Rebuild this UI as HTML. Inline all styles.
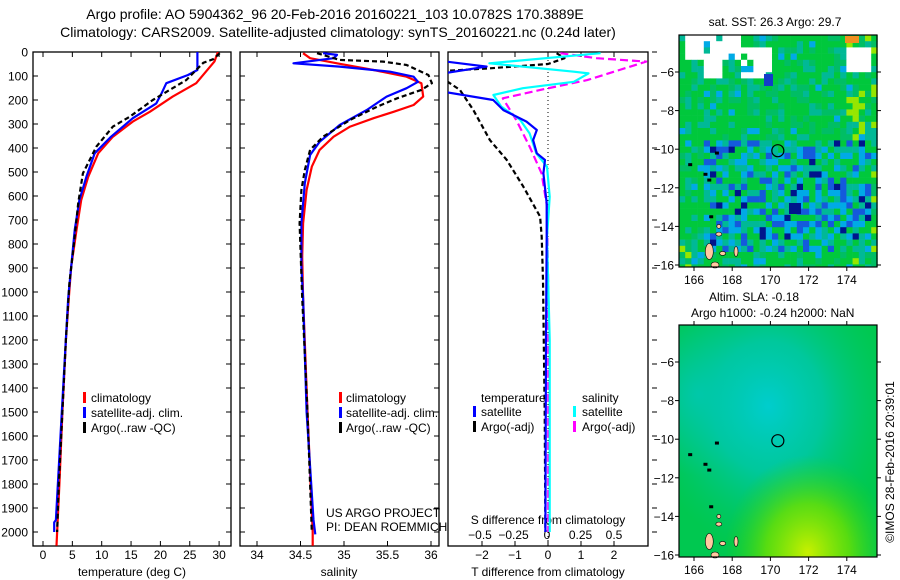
<!DOCTYPE html>
<html><head><meta charset="utf-8"><style>
html,body{margin:0;padding:0;background:#fff}
svg{display:block;font-family:"Liberation Sans",sans-serif}
</style></head><body>
<svg id="fig" width="900" height="580" viewBox="0 0 900 580" xmlns="http://www.w3.org/2000/svg">
<defs>
<clipPath id="c1"><rect x="33" y="52" width="198" height="494"/></clipPath>
<clipPath id="c2"><rect x="240" y="52" width="199" height="494"/></clipPath>
<clipPath id="c3"><rect x="448" y="52" width="200" height="494"/></clipPath>
<radialGradient id="tealblob" cx="0.45" cy="0.35" r="0.62">
<stop offset="0" stop-color="rgb(0,205,205)"/><stop offset="0.45" stop-color="rgb(0,200,170)" stop-opacity="0.85"/><stop offset="1" stop-color="rgb(0,200,120)" stop-opacity="0"/></radialGradient>
<radialGradient id="yellblob" cx="0.65" cy="0.98" r="0.42">
<stop offset="0" stop-color="rgb(200,240,0)"/><stop offset="0.5" stop-color="rgb(110,225,0)" stop-opacity="0.8"/><stop offset="1" stop-color="rgb(40,210,20)" stop-opacity="0"/></radialGradient>
<radialGradient id="tealleft" cx="0.1" cy="0.3" r="0.35">
<stop offset="0" stop-color="rgb(0,200,190)"/><stop offset="1" stop-color="rgb(0,200,150)" stop-opacity="0"/></radialGradient>
</defs>
<text x="335" y="19" font-size="14" text-anchor="middle">Argo profile: AO 5904362_96 20-Feb-2016 20160221_103 10.0782S 170.3889E</text>
<text x="338" y="37" font-size="14" text-anchor="middle">Climatology: CARS2009. Satellite-adjusted climatology: synTS_20160221.nc (0.24d later)</text>
<g id="panels"></g>
<g id="maps"></g>
</svg>
<script>
// ---- data ----
const depthTicks=[0,100,200,300,400,500,600,700,800,900,1000,1100,1200,1300,1400,1500,1600,1700,1800,1900,2000];
const tempTicks=[0,5,10,15,20,25,30];
const salTicks=[34,34.5,35,35.5,36];
const salTickLabels=["34","34.5","35","35.5","36"];
const tDiffTicks=[-2,-1,0,1,2];
const sDiffTicks=[-0.5,-0.25,0,0.25,0.5];
const sDiffTickLabels=["-0.5","-0.25","0","0.25","0.5"];

const tempClimDepth=[0,40,130,186,249,290,353,422,520,617,742,894,1025,1200,1500,1800,2057];
const tempClim=[29.8,29.2,26.1,22.1,18.2,15.3,11.9,9.4,7.7,6.5,5.7,4.8,4.4,3.9,3.3,2.8,2.3];
const tempSatDepth=[0,75,96,130,172,214,276,353,422,520,617,742,1025,1500,1950,1960,2000];
const tempSat=[26.3,26.3,24.7,21,20.2,19.3,15.3,11.6,8.8,7.4,6.2,5.4,4.3,3.2,2.2,1.9,1.9];
const tempArgoDepth=[5,12,30,45,117,200,269,311,394,506,630,770,963,1200,1500,1800,2000];
const tempArgo=[30.1,29.8,29,27.3,24.4,18.7,14.8,11.9,9.1,6.8,6,5.4,4.5,3.9,3.3,2.7,2.4];

const salClimDepth=[5,26,47,75,103,130,186,221,249,276,311,353,408,478,575,714,853,1025,1500,2000,2057];
const salClim=[34.53,34.61,34.92,35.34,35.72,35.89,35.91,35.80,35.57,35.34,35.07,34.88,34.72,34.63,34.57,34.53,34.52,34.53,34.58,34.64,34.64];
const salSatDepth=[5,12,26,47,61,82,103,124,151,186,242,304,374,429,547,714,895,1025,1500,1950,2010];
const salSat=[34.76,34.92,34.88,34.42,34.95,35.53,35.80,35.85,35.72,35.49,35.26,34.95,34.72,34.61,34.55,34.51,34.51,34.53,34.57,34.65,34.67];
const salArgoDepth=[5,33,40,54,96,130,158,193,228,283,353,408,492,575,714,1025,1500,2000];
const salArgo=[34.69,34.95,35.45,35.72,35.97,36.01,35.89,35.61,35.38,35.07,34.76,34.61,34.55,34.51,34.49,34.52,34.58,34.63];

const tDiffSatDepth=[0,33,61,96,158,200,242,290,325,367,422,450,506,630,770,1200,2000];
const tDiffSat=[-3.5,-3.5,-1.86,-3.5,-3.5,-1.66,-1.35,-0.65,-0.34,-0.45,-0.34,-0.09,-0.14,-0.04,-0.04,-0.06,-0.08];
const tDiffArgoDepth=[5,26,50,68,82,158,242,367,450,561,686,770,950,1500,2000];
const tDiffArgo=[0.26,0.5,0,-1.76,-3.5,-2.67,-2.26,-1.76,-1.25,-0.75,-0.24,-0.19,-0.15,-0.1,-0.08];
const sDiffSatDepth=[5,47,82,89,124,151,179,228,283,339,422,478,603,770,1200,2000];
const sDiffSat=[0.40,-0.43,0.20,0.31,0.20,-0.18,-0.40,-0.34,-0.20,-0.13,-0.08,0,0.02,0,0.02,0.02];
const sDiffArgoDepth=[5,26,40,75,117,158,193,283,394,506,644,1000,2000];
const sDiffArgo=[0.10,0.37,0.74,0.54,0.30,-0.05,-0.33,-0.23,-0.13,-0.04,0,0.01,0.01];

const mapLatTicks=[-6,-8,-10,-12,-14,-16];
const mapLonTicks=[166,168,170,172,174];
const argoLon=170.3889, argoLat=-10.0782;

// ---- helpers ----
const NS="http://www.w3.org/2000/svg";
function mk(tag,attrs,parent){const e=document.createElementNS(NS,tag);for(const k in attrs)e.setAttribute(k,attrs[k]);parent.appendChild(e);return e;}
const yD=d=>52+d*0.24;
const xT=t=>43+t*5.87;
const xS=s=>257+(s-34)*87;
const xTd=t=>548+t*33;
const xSd=s=>547+s*134;
const P=document.getElementById('panels');

function frame(x0,x1,name,labels){
  const g=mk('g',{},P);
  
  
  mk('rect',{x:x0,y:52,width:x1-x0,height:494,fill:'none',stroke:'#000','stroke-width':1.3},g);
  depthTicks.forEach(d=>{
    const y=yD(d);
    mk('line',{x1:x0,x2:x0+5,y1:y,y2:y,stroke:'#000'},g);
    mk('line',{x1:x1-5,x2:x1,y1:y,y2:y,stroke:'#000'},g);
    if(labels){const t=mk('text',{x:x0-5,y:y+4.5,'font-size':12,'text-anchor':'end'},g);t.textContent=d;}
  });
  return g;
}
function line(xs,ds,fx,color,name,clip,dash){
  const pts=xs.map((v,i)=>fx(v).toFixed(1)+','+yD(ds[i]).toFixed(1)).join(' ');
  const a={points:pts,fill:'none',stroke:color,'stroke-width':2.2,'clip-path':'url(#'+clip+')','stroke-linejoin':'round'};
  if(dash)a['stroke-dasharray']=dash;
  const e=mk('polyline',a,P);
  
  
}
function txt(x,y,s,size,anchor,name,parent){
  const t=mk('text',{x:x,y:y,'font-size':size||12,'text-anchor':anchor||'start'},parent||P);
  t.textContent=s;
  
  
  return t;
}
function legBar(x,y,color,name){
  const r=mk('rect',{x:x,y:y-10,width:3,height:11,fill:color},P);
  
  
}

// ---- panel 1: temperature ----
const g1=frame(33,231,'temperature-panel',true);
tempTicks.forEach(t=>{const x=xT(t);mk('line',{x1:x,x2:x,y1:52,y2:57,stroke:'#000'},g1);mk('line',{x1:x,x2:x,y1:541,y2:546,stroke:'#000'},g1);txt(x,559,String(t),12,'middle','temp-tick-label',g1);});
txt(132,576,'temperature (deg C)',12,'middle','temp-axis-title');
line(tempClim,tempClimDepth,xT,'#ff0000','temp-climatology-line','c1');
line(tempSat,tempSatDepth,xT,'#0000ff','temp-satellite-line','c1');
line(tempArgo,tempArgoDepth,xT,'#000','temp-argo-line','c1','5,3');
legBar(83,402,'#ff0000','legend-climatology-marker');txt(91,402,'climatology',12,'start','legend-climatology');
legBar(83,417,'#0000ff','legend-satellite-marker');txt(91,417,'satellite-adj. clim.',12,'start','legend-satellite');
legBar(83,432,'#000','legend-argo-marker');txt(91,432,'Argo(..raw -QC)',12,'start','legend-argo');

// ---- panel 2: salinity ----
const g2=frame(240,439,'salinity-panel',false);
salTicks.forEach((s,i)=>{const x=xS(s);mk('line',{x1:x,x2:x,y1:52,y2:57,stroke:'#000'},g2);mk('line',{x1:x,x2:x,y1:541,y2:546,stroke:'#000'},g2);txt(x,559,salTickLabels[i],12,'middle','sal-tick-label',g2);});
txt(339,576,'salinity',12,'middle','sal-axis-title');
line(salClim,salClimDepth,xS,'#ff0000','sal-climatology-line','c2');
line(salSat,salSatDepth,xS,'#0000ff','sal-satellite-line','c2');
line(salArgo,salArgoDepth,xS,'#000','sal-argo-line','c2','5,3');
legBar(339,402,'#ff0000','legend2-climatology-marker');txt(346,402,'climatology',12,'start','legend2-climatology');
legBar(339,417,'#0000ff','legend2-satellite-marker');txt(346,417,'satellite-adj. clim.',12,'start','legend2-satellite');
legBar(339,432,'#000','legend2-argo-marker');txt(346,432,'Argo(..raw -QC)',12,'start','legend2-argo');
txt(326,517,'US ARGO PROJECT',12,'start','project-credit');
txt(326,531,'PI: DEAN ROEMMICH',12,'start','pi-credit');

// ---- panel 3: differences ----
const g3=mk('g',{},P);


mk('rect',{x:448,y:52,width:200,height:494,fill:'none',stroke:'#000','stroke-width':1.3},g3);
depthTicks.forEach(d=>{const y=yD(d);mk('line',{x1:652,x2:657,y1:y,y2:y,stroke:'#000'},g3);});
tDiffTicks.forEach(t=>{const x=xTd(t);mk('line',{x1:x,x2:x,y1:52,y2:57,stroke:'#000'},g3);mk('line',{x1:x,x2:x,y1:541,y2:546,stroke:'#000'},g3);txt(x,559,String(t).replace('-','−'),12,'middle','tdiff-tick-label',g3);});
sDiffTicks.forEach((s,i)=>{txt(xSd(s),539,sDiffTickLabels[i].replace('-','−'),12,'middle','sdiff-tick-label',g3);});
mk('line',{x1:548,x2:548,y1:52,y2:546,stroke:'#000','stroke-dasharray':'1,3'},g3);
txt(548,524,'S difference from climatology',12,'middle','sdiff-axis-title');
txt(548,576,'T difference from climatology',12,'middle','tdiff-axis-title');
line(tDiffArgo,tDiffArgoDepth,xTd,'#000','tdiff-argo-line','c3','5,3');
line(sDiffArgo,sDiffArgoDepth,xSd,'#ff00ff','sdiff-argo-line','c3','8,4');
line(sDiffSat,sDiffSatDepth,xSd,'#00ffff','sdiff-satellite-line','c3');
line(tDiffSat,tDiffSatDepth,xTd,'#0000ff','tdiff-satellite-line','c3');
txt(481,402,'temperature',12,'start','legend3-temperature-header');
legBar(473,416,'#0000ff','legend3-tsat-marker');txt(481,416,'satellite',12,'start','legend3-tsat');
legBar(473,431,'#000','legend3-targo-marker');txt(481,431,'Argo(-adj)',12,'start','legend3-targo');
txt(582,402,'salinity',12,'start','legend3-salinity-header');
legBar(573,416,'#00ffff','legend3-ssat-marker');txt(582,416,'satellite',12,'start','legend3-ssat');
legBar(573,431,'#ff00ff','legend3-sargo-marker');txt(582,431,'Argo(-adj)',12,'start','legend3-sargo');

// ---- maps ----
const M=document.getElementById('maps');
const MX0=679,MX1=877;
const lonX=l=>694+(l-166)*19.1;
function hash(i,j,k){let h=(i*73856093)^(j*19349663)^(k*83492791);h=(h^(h>>>13))*1274126177;h=h^(h>>>16);return ((h>>>0)%10000)/10000;}
function mapAxes(name){
  const g=mk('g',{},M);
  
  
  return g;
}
function mapFrame(g,y0,y1,latY,showTop){
  mk('rect',{x:MX0,y:y0,width:MX1-MX0,height:y1-y0,fill:'none',stroke:'#000','stroke-width':1.2},g);
  mapLatTicks.forEach(l=>{const y=latY(l);mk('line',{x1:MX0-4,x2:MX0,y1:y,y2:y,stroke:'#000'},g);mk('line',{x1:MX1,x2:MX1+4,y1:y,y2:y,stroke:'#000'},g);txt(MX0-5,y+4.5,String(l).replace('-','−'),12,'end','map-lat-label',g);});
  mapLonTicks.forEach(l=>{const x=lonX(l);mk('line',{x1:x,x2:x,y1:y1,y2:y1+4,stroke:'#000'},g);if(showTop)mk('line',{x1:x,x2:x,y1:y0-4,y2:y0,stroke:'#000'},g);txt(x,y1+17,String(l),12,'middle','map-lon-label',g);});
  const c=mk('circle',{cx:lonX(argoLon),cy:latY(argoLat),r:6,fill:'none',stroke:'#000','stroke-width':1.2},g);
  
  
}
function islands(g,latY){
  const isl=[[166.8,-15.3,4,8],[167.1,-16.0,4,3],[168.2,-15.3,2,5],[167.5,-15.4,3,2],[167.3,-14.4,3,2],[167.3,-14.0,2,2]];
  isl.forEach(a=>{const e=mk('ellipse',{cx:lonX(a[0]),cy:latY(a[1]),rx:a[2],ry:a[3],fill:'#ffc8a0',stroke:'#000','stroke-width':0.6},g);});
  [[165.8,-10.8],[166.6,-11.3],[166.8,-11.6],[167.2,-10.2],[166.9,-13.5]].forEach(a=>{mk('rect',{x:lonX(a[0])-2,y:latY(a[1])-1.5,width:4,height:3,fill:'#000'},g);});
}
// map 1: SST
const lat1=l=>72+(-6-l)*19.3;
const gm1=mapAxes('sst-map');
txt(775,26,'sat. SST: 26.3 Argo: 29.7',12,'middle','sst-map-title',gm1);
const cell=6.2;
const pal={g:'rgb(0,200,60)',g2:'rgb(0,190,100)',t:'rgb(0,185,150)',lb:'rgb(0,170,230)',b:'rgb(20,90,220)',db:'rgb(0,20,140)',y:'rgb(150,230,0)',w:'#fff'};
for(let j=0;j*cell<232;j++){for(let i=0;i*cell<198;i++){
  const x=MX0+i*cell,y=35+j*cell,r=hash(i,j,1);
  let c;
  const blueZone=(y>140&&y<250&&x>700&&x<870)?1:0;
  const white=(y<58&&x>683&&x<725)||(y<75&&x>700&&x<720)||(y>45&&y<75&&x>735&&x<770&&hash(i,j,5)<0.8)||(y>42&&y<72&&x>842&&x<870)||(y<55&&x>725&&x<735);
  if(white&&r<0.9)c=pal.w;
  else if(blueZone){c=r<0.35?pal.g:r<0.6?pal.t:r<0.8?pal.lb:r<0.95?pal.b:pal.db;}
  else if(x>845&&r<0.2)c=pal.y;
  else if(x<700&&y>240&&r<0.3)c=pal.y;
  else{c=r<0.55?pal.g:r<0.75?pal.g2:r<0.95?pal.t:pal.lb;}
  mk('rect',{x:x,y:y,width:cell+0.3,height:Math.min(cell+0.3,267-y),fill:c},gm1);
}}
mk('rect',{x:845,y:36,width:14,height:7,fill:'#f09020'},gm1);
mk('rect',{x:764,y:74,width:9,height:12,fill:'rgb(20,60,200)'},gm1);
mk('rect',{x:789,y:203,width:12,height:11,fill:'rgb(0,20,140)'},gm1);
islands(gm1,lat1);
mapFrame(gm1,35,267,lat1,false);
// map 2: SLA
const lat2=l=>362+(-6-l)*19.3;
const gm2=mapAxes('sla-map');
txt(709,301,'Altim. SLA: -0.18',12,'start','sla-map-title',gm2);
txt(691,317,'Argo h1000: -0.24 h2000: NaN',12,'start','sla-map-subtitle',gm2);
mk('rect',{x:MX0,y:325,width:MX1-MX0,height:232,fill:'rgb(0,200,80)'},gm2);
mk('rect',{x:MX0,y:325,width:MX1-MX0,height:232,fill:'url(#tealleft)'},gm2);
mk('rect',{x:MX0,y:325,width:MX1-MX0,height:232,fill:'url(#tealblob)'},gm2);
mk('rect',{x:MX0,y:325,width:MX1-MX0,height:232,fill:'url(#yellblob)'},gm2);
islands(gm2,lat2);
mapFrame(gm2,325,557,lat2,true);
const cr=txt(0,0,'©IMOS 28-Feb-2016 20:39:01',12,'middle','timestamp-credit',M);
cr.setAttribute('transform','translate(894,462) rotate(-90)');
</script>
</body></html>
